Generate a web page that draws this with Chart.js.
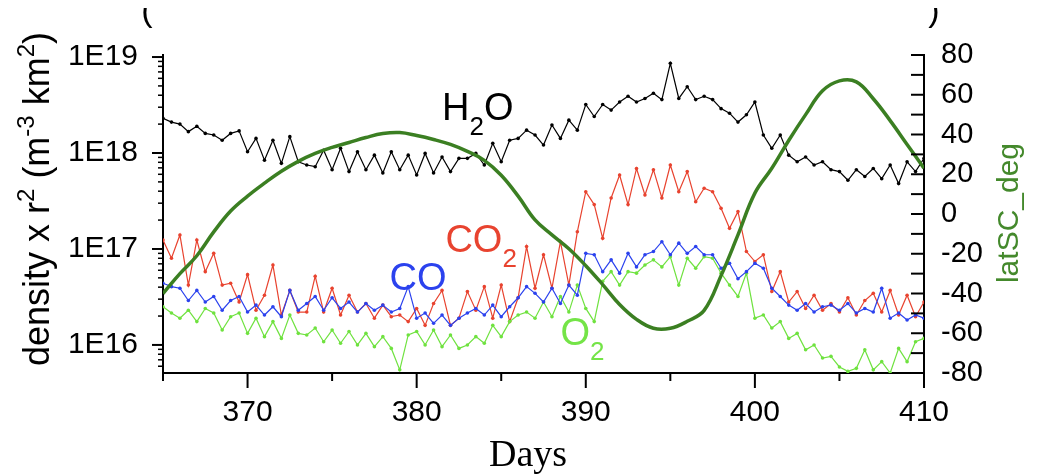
<!DOCTYPE html>
<html lang="en">
<head>
<meta charset="UTF-8">
<title>density x r² vs Days</title>
<script src="https://cdn.jsdelivr.net/npm/chart.js"></script>
<style>
    body { margin: 0; background: #fff; }
    #wrap { width: 1042px; height: 474px; }
</style>
</head>
<body>
<div id="wrap"><canvas id="chart" width="1042" height="474"></canvas></div>
<script>
// sampling days (half-day steps)
const days = [
    365,365.5,366,366.5,367,367.5,368,368.5,369,369.5,
    370,370.5,371,371.5,372,372.5,373,373.5,374,374.5,
    375,375.5,376,376.5,377,377.5,378,378.5,379,379.5,
    380,380.5,381,381.5,382,382.5,383,383.5,384,384.5,
    385,385.5,386,386.5,387,387.5,388,388.5,389,389.5,
    390,390.5,391,391.5,392,392.5,393,393.5,394,394.5,
    395,395.5,396,396.5,397,397.5,398,398.5,399,399.5,
    400,400.5,401,401.5,402,402.5,403,403.5,404,404.5,
    405,405.5,406,406.5,407,407.5,408,408.5,409,409.5,
    410
];
const h2o = [
    2.3e18,2.1e18,2.0e18,1.67e18,1.9e18,1.6e18,1.54e18,1.36e18,1.6e18,1.7e18,
    1.03e18,1.42e18,8.4e17,1.36e18,7.8e17,1.48e18,8.1e17,7.5e17,7.2e17,1.07e18,
    6.7e17,1.12e18,6.4e17,1.03e18,6.7e17,9.5e17,6.2e17,1.03e18,6.7e17,9.5e17,
    5.9e17,9.9e17,6.2e17,9.1e17,6.4e17,8.8e17,8.8e17,9.9e17,7.5e17,1.26e18,
    8.1e17,1.36e18,1.42e18,1.73e18,1.54e18,1.21e18,1.96e18,1.42e18,2.2e18,1.73e18,
    3.2e18,2.4e18,3.2e18,2.8e18,3.4e18,3.9e18,3.4e18,3.7e18,4.2e18,3.6e18,
    8.6e18,3.7e18,4.9e18,3.6e18,3.9e18,3.6e18,2.9e18,2.6e18,2.1e18,2.5e18,
    3.4e18,1.54e18,1.12e18,1.54e18,9.5e17,8.1e17,9.1e17,7.5e17,8.1e17,6.7e17,
    6.4e17,5.2e17,6.7e17,5.7e17,6.9e17,5.4e17,7.5e17,4.8e17,8.1e17,6.4e17,
    8.8e17
];
const co2 = [
    1.24e17,8.0e16,1.4e17,4.2e16,1.24e17,5.8e16,9.0e16,4.2e16,4.4e16,2.8e16,
    5.4e16,2.3e16,3.3e16,6.8e16,2.05e16,3.7e16,2.2e16,2.2e16,5.2e16,2.2e16,
    3.9e16,2.05e16,3.3e16,2.2e16,2.7e16,1.9e16,2.6e16,1.97e16,2.05e16,1.75e16,
    2.4e16,1.6e16,2.7e16,3.7e16,1.6e16,1.9e16,3.6e16,2.3e16,4.05e16,1.9e16,
    4.2e16,1.75e16,3.1e16,1.06e17,3.9e16,8.7e16,3.9e16,1.19e17,4.2e16,1.51e17,
    3.95e17,2.9e17,1.29e17,3.4e17,5.9e17,2.9e17,6.9e17,3.65e17,6.7e17,3.4e17,
    7.5e17,3.95e17,6.4e17,3.1e17,4.3e17,3.95e17,2.65e17,1.64e17,2.45e17,9.4e16,
    7.4e16,8.7e16,3.6e16,5.8e16,2.8e16,3.6e16,2.4e16,3.3e16,2.3e16,2.7e16,
    2.2e16,3.1e16,2.05e16,2.9e16,3.45e16,2.2e16,3.7e16,2.05e16,3.3e16,1.97e16,
    2.8e16
];
const co = [
    4.4e16,4.05e16,3.9e16,2.9e16,3.7e16,2.8e16,3.2e16,2.3e16,2.9e16,3.2e16,
    2.2e16,2.6e16,2.05e16,2.5e16,1.97e16,3.7e16,2.3e16,2.7e16,3.2e16,2.3e16,
    3.1e16,2.4e16,2.8e16,2.2e16,2.7e16,2.3e16,2.6e16,2.2e16,2.4e16,4.05e16,
    1.9e16,2.15e16,1.68e16,2.05e16,1.6e16,1.9e16,2.15e16,2.4e16,2.05e16,2.6e16,
    1.97e16,2.5e16,3.1e16,4.05e16,3.45e16,2.8e16,3.9e16,2.7e16,4.2e16,3.3e16,
    9.0e16,8.7e16,5.8e16,7.7e16,5.6e16,9.0e16,6.5e16,8.7e16,9.4e16,1.19e17,
    8.7e16,1.15e17,9.0e16,1.06e17,8.7e16,8.7e16,6.3e16,7.1e16,4.9e16,5.8e16,
    7.1e16,6.3e16,3.9e16,3.2e16,2.6e16,2.3e16,2.7e16,2.2e16,2.5e16,2.6e16,
    2.3e16,2.7e16,2.15e16,2.4e16,2.2e16,3.9e16,1.9e16,2.15e16,1.82e16,2.05e16,
    1.9e16
];
const o2 = [
    2.5e16,2.15e16,1.9e16,2.3e16,1.75e16,2.4e16,2.15e16,1.43e16,1.97e16,2.15e16,
    1.32e16,1.9e16,1.22e16,1.75e16,1.17e16,2.05e16,1.32e16,1.27e16,1.5e16,1.08e16,
    1.43e16,1.04e16,1.38e16,1.0e16,1.32e16,9.6e15,1.22e16,9.2e15,5.5e15,1.27e16,
    1.38e16,1.0e16,1.43e16,9.6e15,1.27e16,9.2e15,1.0e16,1.22e16,1.04e16,1.6e16,
    1.22e16,1.75e16,2.05e16,2.2e16,1.9e16,2.8e16,1.97e16,3.2e16,2.2e16,4.2e16,
    2.4e16,1.75e16,4.6e16,5.8e16,4.2e16,5.8e16,5.6e16,6.8e16,7.7e16,6.5e16,
    8.3e16,4.2e16,8.0e16,6.3e16,8.3e16,8.0e16,5.6e16,4.2e16,3.2e16,5.6e16,
    1.9e16,2.05e16,1.5e16,1.75e16,1.17e16,1.32e16,8.9e15,1.0e16,7.3e15,7.6e15,
    5.9e15,5.3e15,5.7e15,8.9e15,5.5e15,6.7e15,5.1e15,9.2e15,6.7e15,1.08e16,
    1.17e16
];
// spacecraft latitude, one value per day
const latDays = [
    365,366,367,368,369,370,371,372,373,374,
    375,376,377,378,379,380,381,382,383,384,
    385,386,387,388,389,390,391,392,393,394,
    395,396,397,398,399,400,401,402,403,404,
    405,406,407,408,409,410
];
const latSC = [
    -40,-30,-21,-9,1.5,9,15.5,21.5,26.5,30.5,
    33.5,36,38.5,40.5,41,39.5,37.5,35,31.5,27,
    19.5,9,-3,-10.5,-17.5,-26,-35.5,-45.5,-53,-57.5,
    -57.5,-54,-48.5,-31,-10.5,10.5,23,37,50,62,
    67,66.5,58,47,35,23
];
const xTicks = [370, 380, 390, 400, 410];
const yTicks = [1e16, 1e17, 1e18, 1e19];
const latTicks = [-80, -60, -40, -20, 0, 20, 40, 60, 80];

const RED = '#e8432f', BLUE = '#2b42ee', LIME = '#6fe23f', DARK = '#3b7f22';
const FONT = '"Liberation Sans", Arial, sans-serif';

const pts = arr => days.map((d, i) => ({x: d, y: arr[i]}));

function species(label, arr, color) {
    return {
        label, data: pts(arr), yAxisID: 'y',
        borderColor: color, backgroundColor: color, borderWidth: 1.2,
        pointRadius: 1.8, pointBorderWidth: 0, pointBackgroundColor: color,
        tension: 0
    };
}

// labels inside the plot: [text, isSubscript]
const notes = [
    {parts: [['H'], ['2', 1], ['O']], day: 381.5, val: 2.2e18, color: '#000'},
    {parts: [['CO'], ['2', 1]], day: 381.7, val: 9.3e16, color: RED},
    {parts: [['CO']], day: 378.4, val: 3.7e16, color: BLUE},
    {parts: [['O'], ['2', 1]], day: 388.5, val: 1.0e16, color: '#74e447'}
];

function rich(ctx, parts, x, y) {
    parts.forEach(p => {
        ctx.font = p.size + 'px ' + FONT;
        ctx.fillText(p.t, x, y + (p.dy || 0));
        x += ctx.measureText(p.t).width;
    });
}
function richWidth(ctx, parts) {
    let w = 0;
    parts.forEach(p => { ctx.font = p.size + 'px ' + FONT; w += ctx.measureText(p.t).width; });
    return w;
}

const ink = {
    id: 'ink',
    afterDraw(chart) {
        const {ctx, chartArea: a, scales: {x, y, y1}} = chart;
        ctx.save();
        ctx.strokeStyle = '#000';
        ctx.lineWidth = 2;
        const line = (x0, y0, x2, y2) => { ctx.beginPath(); ctx.moveTo(x0, y0); ctx.lineTo(x2, y2); ctx.stroke(); };

        // bottom ticks, outward
        for (let d = 365; d <= 410; d += 5) {
            const px = x.getPixelForValue(d);
            line(px, a.bottom, px, a.bottom + (d % 10 === 0 ? 15 : 8));
        }
        // left log ticks, outward
        for (let e = 15; e <= 19; e++) {
            for (let s = 1; s <= 9; s++) {
                const v = s * Math.pow(10, e);
                if (v < y.min || v > y.max) continue;
                const py = y.getPixelForValue(v);
                ctx.lineWidth = s === 1 ? 2 : 1.5;
                line(a.left - (s === 1 ? 11 : 5), py, a.left, py);
            }
        }
        // right ticks, inward
        ctx.lineWidth = 2;
        for (let t = -80; t <= 80; t += 10) {
            const py = y1.getPixelForValue(t);
            line(a.right - 13, py, a.right, py);
        }

        // in-plot species labels
        ctx.textAlign = 'left';
        ctx.textBaseline = 'alphabetic';
        notes.forEach(n => {
            ctx.fillStyle = n.color;
            const parts = n.parts.map(p => p[1] ? {t: p[0], size: 26, dy: 15} : {t: p[0], size: 38});
            rich(ctx, parts, x.getPixelForValue(n.day), y.getPixelForValue(n.val));
        });

        // left axis title
        ctx.fillStyle = '#000';
        const title = [
            {t: 'density x r', size: 36}, {t: '2', size: 24, dy: -15},
            {t: ' (m', size: 36}, {t: '-3', size: 24, dy: -15},
            {t: ' km', size: 36}, {t: '2', size: 24, dy: -15}, {t: ')', size: 36}
        ];
        ctx.save();
        ctx.translate(49, 199);
        ctx.rotate(-Math.PI / 2);
        rich(ctx, title, -richWidth(ctx, title) / 2, 0);
        ctx.restore();

        // right axis title
        ctx.save();
        ctx.translate(1018, 213);
        ctx.rotate(-Math.PI / 2);
        ctx.textAlign = 'center';
        ctx.fillStyle = '#44892c';
        ctx.font = '30px ' + FONT;
        ctx.fillText('latSC_deg', 0, 0);
        ctx.restore();

        // x axis title
        ctx.textAlign = 'center';
        ctx.fillStyle = '#000';
        ctx.font = '38px "Liberation Serif", "Times New Roman", serif';
        ctx.fillText('Days', 528, 466);

        // cut-off brackets at the very top
        ctx.save();
        ctx.beginPath();
        ctx.rect(0, 8, 1042, 24);
        ctx.clip();
        ctx.font = '34px ' + FONT;
        ctx.fillText('(', 147, 21);
        ctx.fillText(')', 934, 21);
        ctx.restore();

        ctx.restore();
    }
};

new Chart(document.getElementById('chart'), {
    type: 'line',
    data: {
        datasets: [
            {
                label: 'latSC_deg', data: latDays.map((d, i) => ({x: d, y: latSC[i]})), yAxisID: 'y1',
                borderColor: DARK, borderWidth: 3.5, pointRadius: 0, tension: 0.4
            },
            species('CO', co, BLUE),
            species('O2', o2, LIME),
            species('CO2', co2, RED),
            species('H2O', h2o, '#000')
        ]
    },
    options: {
        responsive: false,
        devicePixelRatio: 1,
        animation: false,
        events: [],
        layout: { padding: { top: 55, left: 0, right: 0, bottom: 0 } },
        plugins: { legend: { display: false }, tooltip: { enabled: false } },
        scales: {
            x: {
                type: 'linear', min: 365, max: 410,
                afterBuildTicks: s => { s.ticks = xTicks.map(v => ({value: v})); },
                afterFit: s => { s.height = 101; },
                grid: { display: false, drawTicks: false, tickLength: 0 },
                border: { display: true, color: '#000', width: 2 },
                ticks: { color: '#000', font: { family: FONT, size: 30 }, padding: 22, maxRotation: 0 }
            },
            y: {
                type: 'logarithmic', position: 'left', min: 5.1e15, max: 1.05e19,
                afterBuildTicks: s => { s.ticks = yTicks.map(v => ({value: v})); },
                afterFit: s => { s.width = 163; },
                grid: { display: false, drawTicks: false, tickLength: 0 },
                border: { display: true, color: '#000', width: 2 },
                ticks: { color: '#000', font: { family: FONT, size: 30 }, padding: 25,
                    callback: v => '1E' + Math.round(Math.log10(v)) }
            },
            y1: {
                type: 'linear', position: 'right', min: -80, max: 80,
                afterBuildTicks: s => { s.ticks = latTicks.map(v => ({value: v})); },
                afterFit: s => { s.width = 118; },
                grid: { display: false, drawTicks: false, tickLength: 0 },
                border: { display: true, color: '#000', width: 2 },
                ticks: { color: '#000', font: { family: FONT, size: 29 }, padding: 17 }
            }
        }
    },
    plugins: [ink]
});
</script>
</body>
</html>
